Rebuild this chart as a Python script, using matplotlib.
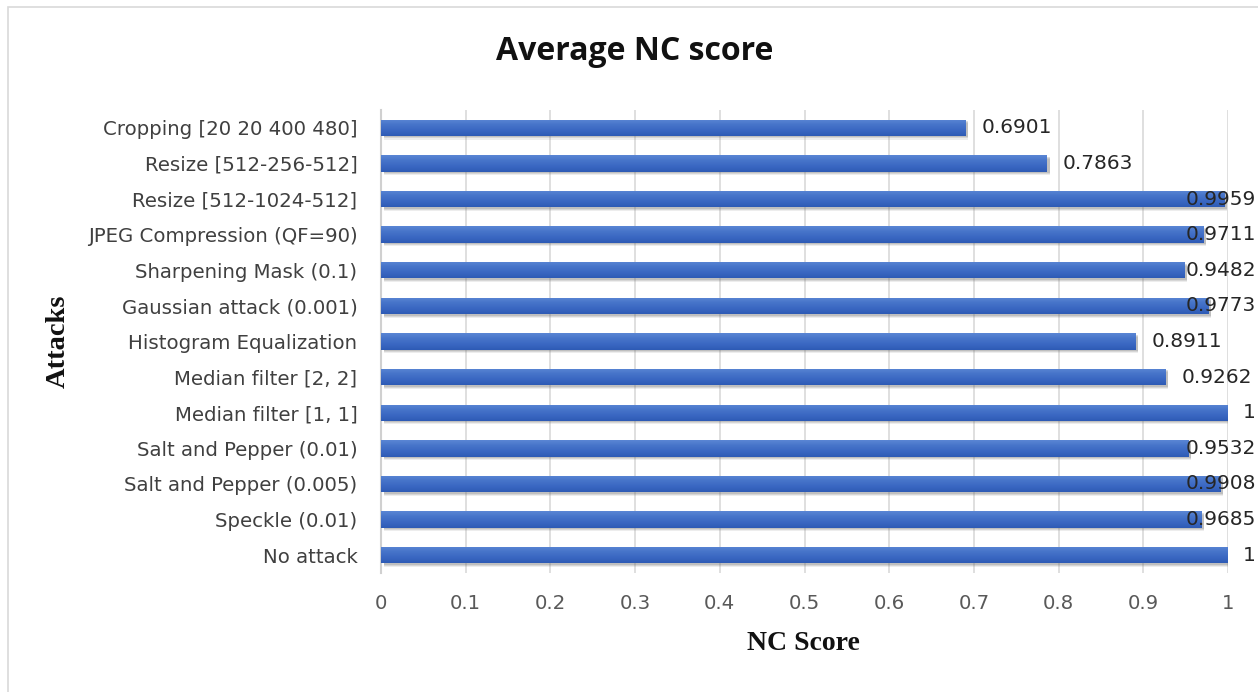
import matplotlib
matplotlib.use("Agg")
import matplotlib.pyplot as plt
import numpy as np
from matplotlib.patches import Rectangle
from matplotlib.colors import LinearSegmentedColormap

attacks = [
    "No attack",
    "Speckle (0.01)",
    "Salt and Pepper (0.005)",
    "Salt and Pepper (0.01)",
    "Median filter [1, 1]",
    "Median filter [2, 2]",
    "Histogram Equalization",
    "Gaussian attack (0.001)",
    "Sharpening Mask (0.1)",
    "JPEG Compression (QF=90)",
    "Resize [512-1024-512]",
    "Resize [512-256-512]",
    "Cropping [20 20 400 480]",
]
nc_scores = [1, 0.9685, 0.9908, 0.9532, 1, 0.9262, 0.8911, 0.9773,
             0.9482, 0.9711, 0.9959, 0.7863, 0.6901]
value_labels = ["1", "0.9685", "0.9908", "0.9532", "1", "0.9262", "0.8911",
                "0.9773", "0.9482", "0.9711", "0.9959", "0.7863", "0.6901"]
x_ticks = [0, 0.1, 0.2, 0.3, 0.4, 0.5, 0.6, 0.7, 0.8, 0.9, 1]
x_tick_labels = ["0", "0.1", "0.2", "0.3", "0.4", "0.5", "0.6", "0.7",
                 "0.8", "0.9", "1"]

W, H = 1258, 692
fig = plt.figure(figsize=(W / 100, H / 100), dpi=100)
fig.patch.set_facecolor("white")
fig.add_artist(Rectangle((8 / W, -0.05), 1.1, 1 - 7 / H + 0.05,
                         transform=fig.transFigure, fill=False,
                         edgecolor="#d9d9d9", linewidth=1.2))

ax = fig.add_axes([381 / W, 1 - 573 / H, 847 / W, 463 / H])
ypos = list(range(len(attacks)))
bar_h = 0.46

# soft shadow
for dy, a in [(0.10, 0.12), (0.07, 0.18), (0.04, 0.22)]:
    ax.barh([y - dy for y in ypos], nc_scores, height=bar_h, left=0.003,
            color="#6f6f6f", alpha=a, zorder=2, linewidth=0)

bars = ax.barh(ypos, nc_scores, height=bar_h, color="#4170c6", zorder=3,
               linewidth=0)
cmap = LinearSegmentedColormap.from_list(
    "grad", ["#2e5bb5", "#3a67c2", "#4674c9", "#5a86d4"])
grad = np.linspace(0, 1, 64).reshape(-1, 1)
for b in bars:
    x0, y0 = b.get_x(), b.get_y()
    im = ax.imshow(grad, cmap=cmap, aspect="auto", origin="lower",
                   extent=[x0, x0 + b.get_width(), y0, y0 + b.get_height()],
                   zorder=4, interpolation="bilinear")
    im.set_clip_path(b)

ax.set_xlim(0, 1)
ax.set_ylim(-0.5, len(attacks) - 0.5)
ax.set_xticks(x_ticks)
ax.set_xticklabels(x_tick_labels)
ax.set_yticks(ypos)
ax.set_yticklabels(attacks)
ax.tick_params(axis="both", length=0)
ax.tick_params(axis="x", pad=15, labelsize=14.2, labelcolor="#595959")
ax.tick_params(axis="y", pad=17, labelsize=14.2, labelcolor="#404040")
for lbl in ax.get_xticklabels() + ax.get_yticklabels():
    lbl.set_fontfamily("DejaVu Sans")

ax.grid(axis="x", color="#d9d9d9", linewidth=1.2, zorder=0)
ax.set_axisbelow(True)
for s in ["top", "right", "bottom"]:
    ax.spines[s].set_visible(False)
ax.spines["left"].set_color("#d0d0d0")
ax.spines["left"].set_linewidth(1.5)

fig.text(635 / W, 1 - 52 / H, "Average NC score", ha="center", va="center",
         fontsize=23, fontweight="bold", family="Open Sans",
         color="#111111")
fig.text(803 / W, 1 - 643 / H, "NC Score", ha="center", va="center",
         fontsize=20, fontweight="bold", family="Liberation Serif",
         color="#111111")
fig.text(58 / W, 1 - 341 / H, "Attacks", ha="center", va="center",
         rotation=90, fontsize=20.5, fontweight="bold",
         family="Liberation Serif", color="#111111")

# value labels: outside end, clamped to the chart's right edge
fig.canvas.draw()
renderer = fig.canvas.get_renderer()
inv = ax.transData.inverted()
x_px_limit = 1256
for y, v, s in zip(ypos, nc_scores, value_labels):
    t = ax.text(v, y, s, ha="left", va="center", fontsize=14.5,
                family="DejaVu Sans", color="#262626", zorder=6,
                clip_on=False)
    width_px = t.get_window_extent(renderer).width
    px_end, py = ax.transData.transform((v, y))
    left_px = px_end + 16
    if left_px + width_px > x_px_limit:
        left_px = x_px_limit - width_px
    new_x = inv.transform((left_px, py))[0]
    t.set_x(new_x)

fig.savefig("out.png", dpi=100)
